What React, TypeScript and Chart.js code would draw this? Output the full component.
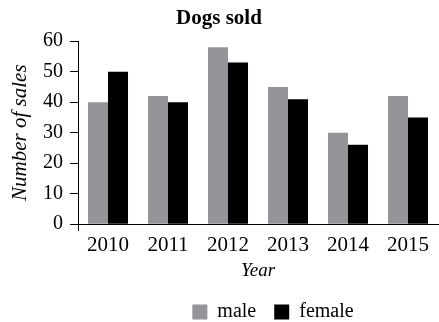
import React, { useEffect, useRef } from "react";
import { Chart, registerables } from "chart.js";

Chart.register(...registerables);

const years = ["2010", "2011", "2012", "2013", "2014", "2015"];
const male = [40, 42, 58, 45, 30, 42];
const female = [50, 40, 53, 41, 26, 35];
const yTicks = [0, 10, 20, 30, 40, 50, 60];

const FONT = "'Liberation Serif', 'Times New Roman', serif";
Chart.defaults.font.family = FONT;
Chart.defaults.color = "#000";

const legendShift = {
  id: "legendShift",
  afterLayout(chart: any) {
    const l = chart.legend;
    if (!l) return;
    const dx = 54;
    l.left += dx;
    l.right += dx;
  },
};

export default function App() {
  const ref = useRef<HTMLCanvasElement | null>(null);
  useEffect(() => {
    let chart: Chart | null = null;
    let cancelled = false;
    const timers: any[] = [];
    const make = () => {
      if (cancelled || !ref.current) return;
      chart = new Chart(ref.current, {
        type: "bar",
        data: {
          labels: years,
          datasets: [
            { label: "male", data: male, backgroundColor: "#939598", borderWidth: 0 },
            { label: "female", data: female, backgroundColor: "#000000", borderWidth: 0 },
          ],
        },
        plugins: [legendShift],
        options: {
          animation: false,
          responsive: false,
          maintainAspectRatio: false,
          layout: { padding: { left: 0, right: 1, top: 0, bottom: -10 } },
          datasets: { bar: { categoryPercentage: 0.667, barPercentage: 1 } },
          plugins: {
            title: {
              display: true,
              text: "Dogs sold",
              color: "#000",
              font: { size: 21, weight: "bold" },
              padding: { top: 6, bottom: 10 },
            },
            legend: {
              position: "bottom",
              labels: {
                color: "#000",
                font: { size: 20 },
                boxWidth: 15,
                boxHeight: 15,
                padding: 18,
              },
            },
            tooltip: { enabled: false },
          },
          scales: {
            x: {
              grid: {
                display: true,
                drawOnChartArea: false,
                drawTicks: true,
                tickLength: 7,
                lineWidth: 1,
                color: (ctx: any) => (ctx.index === 0 ? "#000" : "rgba(0,0,0,0)"),
              },
              border: { display: true, color: "#000", width: 1 },
              ticks: { color: "#000", font: { size: 21, lineHeight: 1.05 }, padding: 3 },
              title: {
                display: true,
                text: "Year",
                color: "#000",
                font: { size: 19, style: "italic" },
                padding: { top: 0, bottom: 2 },
              },
            },
            y: {
              min: 0,
              max: 60,
              afterFit(scale: any) {
                scale.width = 78;
              },
              afterBuildTicks(scale: any) {
                scale.ticks = yTicks.map((v) => ({ value: v }));
              },
              grid: {
                display: true,
                drawOnChartArea: false,
                drawTicks: true,
                tickLength: 8,
                color: "#000",
                lineWidth: 1,
              },
              border: { display: true, color: "#000", width: 1 },
              ticks: { color: "#000", font: { size: 20 }, padding: 7 },
              title: {
                display: true,
                text: "Number of sales",
                color: "#000",
                font: { size: 21, style: "italic" },
                padding: { top: 8, bottom: 0 },
              },
            },
          },
        },
      });
      const redraw = () => {
        if (!cancelled && chart) chart.update("none");
      };
      timers.push(setTimeout(redraw, 80));
      timers.push(setTimeout(redraw, 300));
      timers.push(setTimeout(redraw, 800));
      const fs: any = (document as any).fonts;
      if (fs && fs.ready) fs.ready.then(redraw);
    };
    requestAnimationFrame(() => {
      const fs: any = (document as any).fonts;
      if (fs && fs.load) {
        Promise.all([
          fs.load("20px 'Liberation Serif'"),
          fs.load("italic 21px 'Liberation Serif'"),
          fs.load("bold 21px 'Liberation Serif'"),
        ]).then(make, make);
      } else {
        make();
      }
    });
    return () => {
      cancelled = true;
      timers.forEach((t) => clearTimeout(t));
      if (chart) chart.destroy();
    };
  }, []);
  return (
    <div style={{ position: "fixed", left: 0, top: 0, width: 439, height: 322, background: "#fff" }}>
      <span style={{ position: "absolute", left: 0, top: 0, fontFamily: FONT, fontSize: 20 }}>{"\u00a0"}</span>
      <span style={{ position: "absolute", left: 0, top: 0, fontFamily: FONT, fontSize: 20, fontStyle: "italic" }}>{"\u00a0"}</span>
      <canvas ref={ref} width={439} height={322} style={{ display: "block", position: "relative" }} />
    </div>
  );
}
